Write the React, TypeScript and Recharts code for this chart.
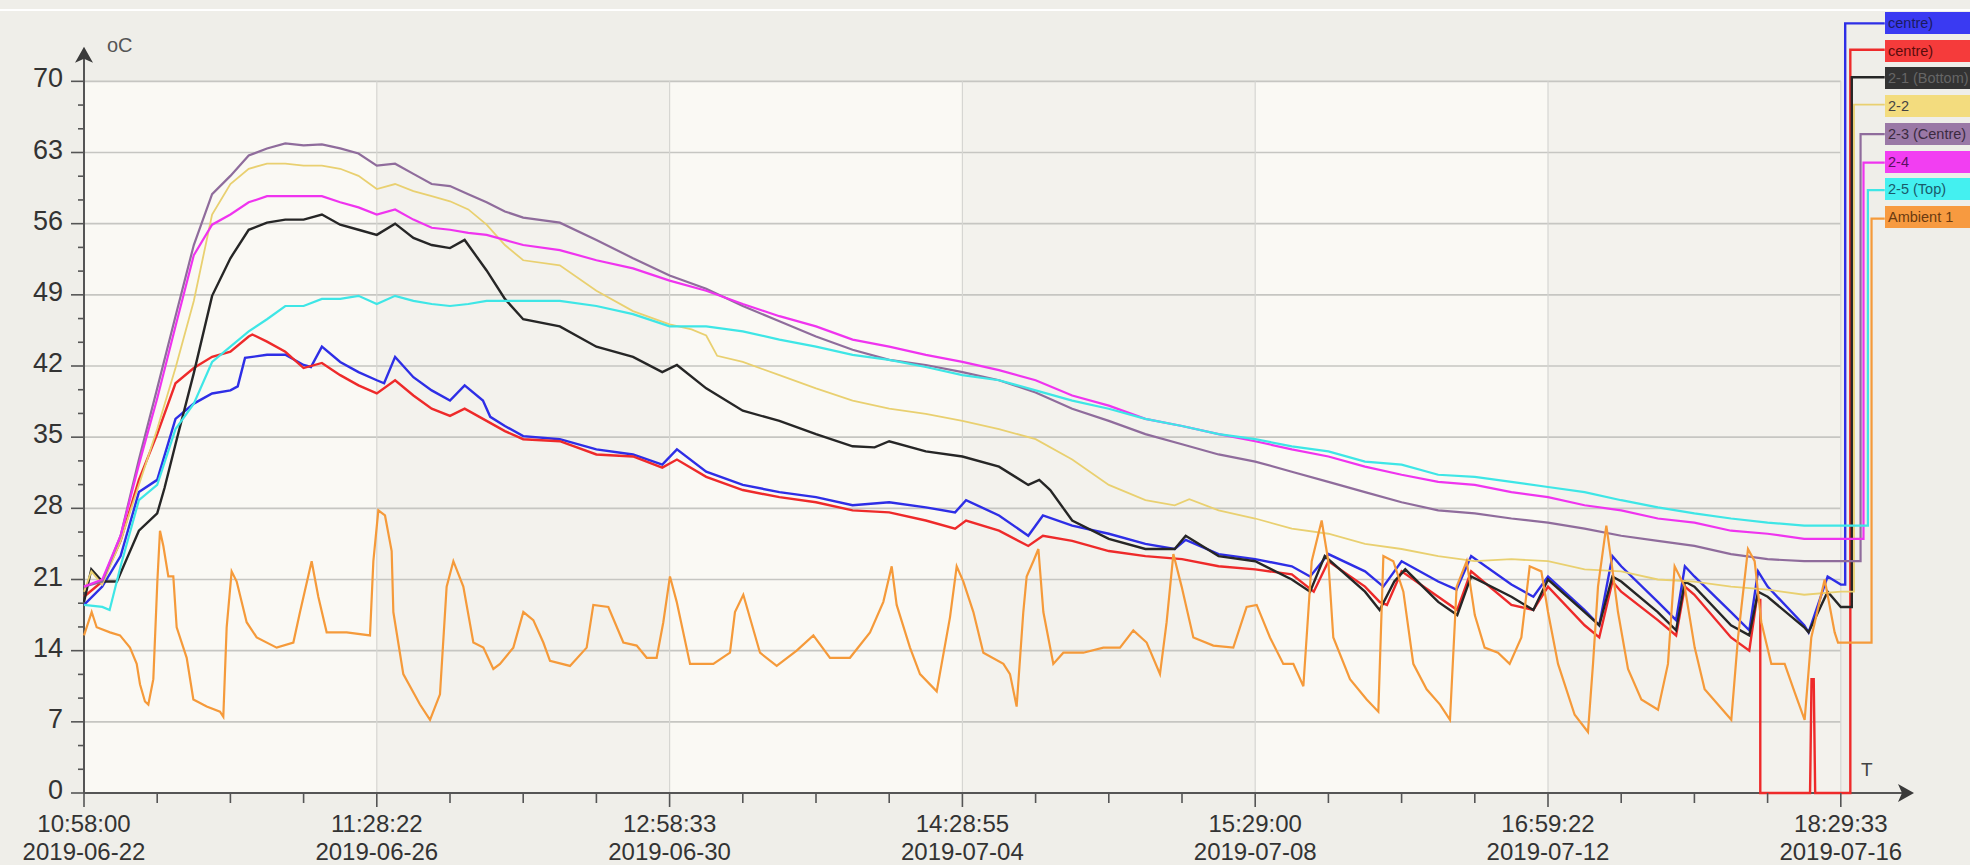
import React from 'react';
import {
  LineChart, Line, XAxis, YAxis, ReferenceLine, ReferenceArea, ReferenceDot,
} from 'recharts';

type Pt = [number, number];

// x in days since 10:58:00 2019-06-22, y in oC
const TIME_LABELS = ['10:58:00', '11:28:22', '12:58:33', '14:28:55', '15:29:00', '16:59:22', '18:29:33'];
const DATE_LABELS = ['2019-06-22', '2019-06-26', '2019-06-30', '2019-07-04', '2019-07-08', '2019-07-12', '2019-07-16'];
const X_MAJOR = [0, 4, 8, 12, 16, 20, 24];
const X_TICKS = Array.from({ length: 25 }, (_, i) => i);
const Y_MAJOR = [0, 7, 14, 21, 28, 35, 42, 49, 56, 63, 70];
const Y_TICKS = Array.from({ length: 31 }, (_, k) => (k * 7) / 3);
const X_MAX = 25.765;
const Y_MAX = 78;

const centreA: Pt[] = [
  [0, 18.5], [0.25, 20.3], [0.5, 23.3], [0.75, 29.6], [1.0, 30.8], [1.25, 36.8], [1.5, 38.3],
  [1.75, 39.3], [2.0, 39.6], [2.1, 40.0], [2.2, 42.8], [2.5, 43.1], [2.75, 43.1], [3.0, 42.1],
  [3.1, 41.9], [3.25, 43.9], [3.5, 42.4], [3.75, 41.4], [4.0, 40.6], [4.1, 40.3], [4.25, 42.9],
  [4.5, 40.9], [4.75, 39.6], [5.0, 38.6], [5.2, 40.1], [5.45, 38.6], [5.55, 37.0], [5.75, 36.1],
  [6.0, 35.1], [6.5, 34.8], [7.0, 33.8], [7.5, 33.3], [7.9, 32.3], [8.1, 33.8], [8.5, 31.6],
  [9.0, 30.3], [9.5, 29.6], [10.0, 29.1], [10.5, 28.3], [11.0, 28.6], [11.5, 28.1], [11.9, 27.6],
  [12.05, 28.8], [12.5, 27.3], [12.9, 25.3], [13.1, 27.3], [13.5, 26.3], [14.0, 25.5], [14.5, 24.5],
  [14.9, 24.0], [15.05, 24.9], [15.5, 23.5], [16.0, 23.0], [16.5, 22.3], [16.75, 21.3], [17.0, 23.5],
  [17.5, 21.8], [17.75, 20.3], [18.0, 22.8], [18.5, 20.8], [18.75, 20.0], [18.95, 23.3], [19.5, 20.5],
  [19.8, 19.3], [20.0, 21.3], [20.5, 18.0], [20.7, 16.5], [20.88, 23.3], [21.0, 22.3], [21.5, 18.8],
  [21.75, 17.0], [21.87, 22.3], [22.0, 21.3], [22.5, 17.8], [22.75, 16.0], [22.87, 21.8], [23.0, 20.3],
  [23.5, 16.5], [23.56, 15.8], [23.82, 21.3], [24.0, 20.5], [24.06, 20.5], [24.06, 75.7], [24.6, 75.7],
];

const centreB: Pt[] = [
  [0, 19.3], [0.25, 20.8], [0.5, 24.8], [0.75, 30.8], [1.0, 35.3], [1.25, 40.3], [1.5, 41.8],
  [1.75, 42.9], [2.0, 43.4], [2.25, 44.9], [2.3, 45.1], [2.5, 44.4], [2.75, 43.4], [3.0, 41.8],
  [3.25, 42.3], [3.5, 41.1], [3.75, 40.1], [4.0, 39.3], [4.25, 40.6], [4.5, 39.1], [4.75, 37.8],
  [5.0, 37.1], [5.2, 37.8], [5.5, 36.6], [5.75, 35.6], [6.0, 34.8], [6.5, 34.6], [7.0, 33.3],
  [7.5, 33.1], [7.9, 32.0], [8.1, 32.8], [8.5, 31.1], [9.0, 29.8], [9.5, 29.1], [10.0, 28.6],
  [10.5, 27.8], [11.0, 27.6], [11.5, 26.8], [11.9, 26.0], [12.05, 26.8], [12.5, 25.8], [12.9, 24.3],
  [13.1, 25.3], [13.5, 24.8], [14.0, 23.8], [14.5, 23.3], [15.0, 23.0], [15.5, 22.3], [16.0, 22.0],
  [16.5, 21.5], [16.8, 19.8], [17.0, 22.8], [17.5, 20.3], [17.7, 18.8], [17.8, 18.5], [18.0, 21.8],
  [18.5, 19.3], [18.76, 18.0], [18.95, 21.8], [19.5, 18.5], [19.8, 18.0], [20.0, 20.3], [20.5, 16.5],
  [20.7, 15.3], [20.88, 20.8], [21.0, 19.8], [21.5, 17.0], [21.75, 15.5], [21.87, 20.3], [22.0, 19.5],
  [22.5, 15.3], [22.75, 14.0], [22.85, 19.0], [22.9, 19.0], [22.9, 0], [23.58, 0], [23.6, 11.2],
  [23.63, 11.2], [23.65, 0], [24.13, 0], [24.13, 73.1], [24.6, 73.1],
];

const bottom21: Pt[] = [
  [0, 18.8], [0.1, 22.0], [0.25, 20.8], [0.45, 20.8], [0.6, 23.3], [0.75, 25.8], [1.0, 27.5],
  [1.1, 30.0], [1.25, 34.3], [1.5, 41.3], [1.75, 48.9], [2.0, 52.6], [2.25, 55.4], [2.5, 56.1],
  [2.75, 56.4], [3.0, 56.4], [3.25, 56.9], [3.5, 55.9], [3.75, 55.4], [4.0, 54.9], [4.25, 56.0],
  [4.5, 54.6], [4.75, 53.9], [5.0, 53.6], [5.2, 54.4], [5.5, 51.4], [5.75, 48.6], [6.0, 46.6],
  [6.5, 45.9], [7.0, 43.9], [7.5, 42.9], [7.9, 41.4], [8.1, 42.1], [8.5, 39.8], [9.0, 37.6],
  [9.5, 36.6], [10.0, 35.3], [10.5, 34.1], [10.8, 34.0], [11.0, 34.6], [11.5, 33.6], [12.0, 33.1],
  [12.5, 32.1], [12.9, 30.3], [13.05, 30.8], [13.2, 29.8], [13.5, 26.8], [14.0, 25.0], [14.5, 24.0],
  [14.9, 24.0], [15.05, 25.3], [15.5, 23.3], [16.0, 22.8], [16.5, 21.0], [16.75, 19.8], [16.95, 23.3],
  [17.5, 19.8], [17.7, 18.0], [17.9, 20.8], [18.05, 22.0], [18.5, 18.8], [18.76, 17.5], [18.95, 21.3],
  [19.5, 19.3], [19.8, 18.0], [20.0, 21.0], [20.5, 17.8], [20.7, 16.5], [20.88, 21.3], [21.0, 20.8],
  [21.5, 17.8], [21.75, 16.0], [21.87, 20.8], [22.0, 20.3], [22.5, 16.5], [22.75, 15.5], [22.87, 19.8],
  [23.0, 19.3], [23.5, 16.3], [23.56, 15.8], [23.82, 19.8], [24.0, 18.3], [24.15, 18.3], [24.15, 70.4],
  [24.6, 70.4],
];

const probe22: Pt[] = [
  [0, 19.8], [0.1, 21.8], [0.25, 20.5], [0.5, 24.8], [0.75, 30.3], [1.0, 35.8], [1.25, 41.8],
  [1.5, 48.4], [1.75, 56.9], [2.0, 59.9], [2.25, 61.4], [2.5, 61.9], [2.75, 61.9], [3.0, 61.7],
  [3.25, 61.7], [3.5, 61.4], [3.75, 60.7], [4.0, 59.4], [4.25, 59.9], [4.5, 59.2], [4.75, 58.7],
  [5.0, 58.2], [5.25, 57.4], [5.5, 55.9], [5.75, 53.9], [6.0, 52.4], [6.5, 51.9], [7.0, 49.4],
  [7.5, 47.4], [8.0, 46.1], [8.3, 45.6], [8.5, 45.0], [8.65, 43.0], [9.0, 42.4], [9.5, 41.1],
  [10.0, 39.8], [10.5, 38.6], [11.0, 37.8], [11.5, 37.3], [12.0, 36.6], [12.5, 35.8], [13.0, 34.8],
  [13.5, 32.8], [14.0, 30.3], [14.5, 28.8], [14.9, 28.3], [15.1, 28.9], [15.5, 27.8], [16.0, 27.0],
  [16.5, 26.0], [17.0, 25.5], [17.5, 24.5], [18.0, 24.0], [18.5, 23.3], [19.0, 22.8], [19.5, 23.0],
  [20.0, 22.8], [20.5, 22.0], [21.0, 21.8], [21.5, 21.0], [22.0, 20.8], [22.5, 20.3], [23.0, 20.0],
  [23.5, 19.5], [24.0, 19.8], [24.18, 19.8], [24.18, 67.7], [24.6, 67.7],
];

const centre23: Pt[] = [
  [0, 20.3], [0.25, 20.8], [0.5, 25.3], [0.75, 32.8], [1.0, 39.8], [1.25, 46.9], [1.5, 53.9],
  [1.75, 58.9], [2.0, 60.7], [2.25, 62.7], [2.5, 63.4], [2.75, 63.9], [3.0, 63.7], [3.25, 63.8],
  [3.5, 63.4], [3.75, 62.9], [4.0, 61.7], [4.25, 61.9], [4.5, 60.9], [4.75, 59.9], [5.0, 59.7],
  [5.25, 58.9], [5.5, 58.1], [5.75, 57.2], [6.0, 56.6], [6.5, 56.1], [7.0, 54.4], [7.5, 52.6],
  [8.0, 50.9], [8.5, 49.6], [9.0, 47.9], [9.5, 46.4], [10.0, 44.9], [10.5, 43.6], [11.0, 42.6],
  [11.5, 42.1], [12.0, 41.4], [12.5, 40.6], [13.0, 39.4], [13.5, 37.8], [14.0, 36.6], [14.5, 35.3],
  [15.0, 34.3], [15.5, 33.3], [16.0, 32.6], [16.5, 31.6], [17.0, 30.6], [17.5, 29.6], [18.0, 28.6],
  [18.5, 27.8], [19.0, 27.5], [19.5, 27.0], [20.0, 26.6], [20.5, 26.0], [21.0, 25.3], [21.5, 24.8],
  [22.0, 24.3], [22.5, 23.5], [23.0, 23.0], [23.5, 22.8], [24.0, 22.8], [24.27, 22.8], [24.27, 64.8],
  [24.6, 64.8],
];

const probe24: Pt[] = [
  [0, 20.3], [0.25, 21.0], [0.5, 25.3], [0.75, 32.3], [1.0, 38.8], [1.25, 45.9], [1.5, 52.9],
  [1.75, 55.9], [2.0, 56.9], [2.25, 58.1], [2.5, 58.7], [2.75, 58.7], [3.0, 58.7], [3.25, 58.7],
  [3.5, 58.1], [3.75, 57.6], [4.0, 56.9], [4.25, 57.4], [4.5, 56.4], [4.75, 55.6], [5.0, 55.4],
  [5.25, 55.1], [5.5, 54.9], [5.75, 54.4], [6.0, 53.9], [6.5, 53.4], [7.0, 52.4], [7.5, 51.6],
  [8.0, 50.4], [8.5, 49.4], [9.0, 48.1], [9.5, 46.9], [10.0, 45.9], [10.5, 44.6], [11.0, 43.9],
  [11.5, 43.1], [12.0, 42.4], [12.5, 41.6], [13.0, 40.6], [13.5, 39.1], [14.0, 38.1], [14.5, 36.8],
  [15.0, 36.1], [15.5, 35.3], [16.0, 34.6], [16.5, 33.8], [17.0, 33.1], [17.5, 32.1], [18.0, 31.3],
  [18.5, 30.6], [19.0, 30.3], [19.5, 29.6], [20.0, 29.1], [20.5, 28.3], [21.0, 27.8], [21.5, 27.0],
  [22.0, 26.6], [22.5, 25.8], [23.0, 25.5], [23.5, 25.0], [24.0, 25.0], [24.31, 25.0], [24.31, 62.0],
  [24.6, 62.0],
];

const top25: Pt[] = [
  [0, 18.5], [0.25, 18.3], [0.35, 18.0], [0.5, 22.3], [0.75, 28.8], [1.0, 30.3], [1.25, 35.8],
  [1.5, 38.3], [1.75, 42.4], [2.0, 43.9], [2.25, 45.4], [2.5, 46.6], [2.75, 47.9], [3.0, 47.9],
  [3.25, 48.6], [3.5, 48.6], [3.75, 48.9], [4.0, 48.1], [4.25, 48.9], [4.5, 48.4], [4.75, 48.1],
  [5.0, 47.9], [5.25, 48.1], [5.5, 48.4], [5.75, 48.4], [6.0, 48.4], [6.5, 48.4], [7.0, 47.9],
  [7.5, 47.1], [8.0, 45.9], [8.5, 45.9], [9.0, 45.4], [9.5, 44.6], [10.0, 43.9], [10.5, 43.1],
  [11.0, 42.6], [11.5, 41.9], [12.0, 41.1], [12.5, 40.6], [13.0, 39.6], [13.5, 38.6], [14.0, 37.8],
  [14.5, 36.8], [15.0, 36.1], [15.5, 35.3], [16.0, 34.8], [16.5, 34.1], [17.0, 33.6], [17.5, 32.6],
  [18.0, 32.3], [18.5, 31.3], [19.0, 31.1], [19.5, 30.6], [20.0, 30.1], [20.5, 29.6], [21.0, 28.8],
  [21.5, 28.1], [22.0, 27.5], [22.5, 27.0], [23.0, 26.6], [23.5, 26.3], [24.0, 26.3], [24.37, 26.3],
  [24.37, 59.3], [24.6, 59.3],
];

const ambient1: Pt[] = [
  [0, 15.5], [0.105, 17.8], [0.173, 16.3], [0.355, 15.8], [0.492, 15.5], [0.628, 14.3], [0.72, 12.7],
  [0.765, 10.7], [0.833, 9.0], [0.879, 8.7], [0.947, 11.2], [1.002, 20.8], [1.038, 25.8], [1.084, 24.3],
  [1.152, 21.3], [1.22, 21.3], [1.266, 16.3], [1.403, 13.3], [1.494, 9.2], [1.676, 8.5], [1.858, 8.0],
  [1.903, 7.5], [1.949, 16.3], [2.017, 21.8], [2.086, 20.8], [2.222, 16.8], [2.359, 15.3], [2.632, 14.3],
  [2.86, 14.8], [2.951, 17.8], [3.11, 22.8], [3.201, 19.3], [3.315, 15.8], [3.588, 15.8], [3.907, 15.5],
  [3.953, 22.8], [4.021, 27.8], [4.112, 27.3], [4.203, 23.8], [4.226, 17.8], [4.362, 11.7], [4.59, 8.7],
  [4.727, 7.2], [4.863, 9.7], [4.954, 20.3], [5.046, 22.8], [5.182, 20.3], [5.319, 14.8], [5.455, 14.3],
  [5.592, 12.2], [5.683, 12.7], [5.865, 14.3], [6.002, 17.8], [6.138, 17.0], [6.275, 14.8], [6.366, 13.0],
  [6.639, 12.5], [6.867, 14.3], [6.958, 18.5], [7.163, 18.3], [7.368, 14.8], [7.55, 14.5], [7.687, 13.3],
  [7.823, 13.3], [7.914, 16.8], [8.005, 21.3], [8.097, 18.8], [8.279, 12.7], [8.597, 12.7], [8.825, 13.8],
  [8.893, 17.8], [9.007, 19.5], [9.235, 13.8], [9.463, 12.5], [9.736, 14.0], [9.964, 15.5], [10.191, 13.3],
  [10.464, 13.3], [10.738, 15.8], [10.92, 18.8], [11.034, 22.3], [11.102, 18.5], [11.284, 14.3],
  [11.421, 11.7], [11.649, 10.0], [11.831, 17.3], [11.922, 22.3], [12.013, 20.8], [12.15, 17.8],
  [12.286, 13.8], [12.56, 12.7], [12.65, 11.7], [12.741, 8.5], [12.832, 17.8], [12.878, 21.3],
  [12.969, 22.8], [13.038, 24.0], [13.106, 17.8], [13.242, 12.7], [13.379, 13.8], [13.652, 13.8],
  [13.925, 14.3], [14.153, 14.3], [14.335, 16.0], [14.517, 14.8], [14.699, 11.7], [14.79, 16.8],
  [14.882, 23.5], [14.995, 20.3], [15.155, 15.3], [15.428, 14.5], [15.701, 14.3], [15.883, 18.3],
  [16.02, 18.5], [16.202, 15.3], [16.384, 12.7], [16.521, 12.7], [16.658, 10.5], [16.772, 22.8],
  [16.908, 26.8], [16.999, 22.8], [17.067, 15.3], [17.295, 11.2], [17.523, 9.2], [17.682, 8.0],
  [17.751, 23.3], [17.887, 22.8], [18.024, 19.8], [18.16, 12.7], [18.342, 10.2], [18.525, 8.7],
  [18.661, 7.2], [18.752, 20.3], [18.889, 22.8], [19.0, 17.5], [19.134, 14.3], [19.317, 13.8],
  [19.476, 12.7], [19.636, 15.3], [19.75, 22.3], [19.909, 21.8], [20.0, 17.8], [20.137, 12.7],
  [20.364, 7.7], [20.546, 6.0], [20.615, 12.7], [20.683, 20.3], [20.797, 26.3], [20.865, 22.8],
  [20.956, 17.8], [21.093, 12.2], [21.275, 9.2], [21.503, 8.2], [21.639, 12.7], [21.73, 22.3],
  [21.867, 20.3], [22.004, 14.3], [22.14, 10.2], [22.322, 8.7], [22.504, 7.2], [22.596, 15.3],
  [22.732, 24.0], [22.823, 22.8], [22.914, 16.8], [23.051, 12.7], [23.233, 12.7], [23.37, 9.9],
  [23.506, 7.2], [23.597, 15.3], [23.78, 21.0], [23.916, 15.8], [23.962, 14.8], [24.42, 14.8],
  [24.42, 56.5], [24.6, 56.5],
];

const SERIES = [
  { name: 'centre)', data: centreA, color: '#2e2ee6', box: '#3a3af2', text: '#1a1a60', width: 2.4 },
  { name: 'centre)', data: centreB, color: '#ee2a2a', box: '#f53b3b', text: '#5a0c0c', width: 2.4 },
  { name: '2-1 (Bottom)', data: bottom21, color: '#262626', box: '#333333', text: '#666666', width: 2.4 },
  { name: '2-2', data: probe22, color: '#e9d070', box: '#f3dc7e', text: '#444', width: 1.8 },
  { name: '2-3 (Centre)', data: centre23, color: '#8f6c9c', box: '#9a78a6', text: '#3a2a40', width: 2.2 },
  { name: '2-4', data: probe24, color: '#ef34ef', box: '#f23ef2', text: '#5a1060', width: 2.2 },
  { name: '2-5 (Top)', data: top25, color: '#3ee6e6', box: '#44f0f0', text: '#1a5a6a', width: 2.2 },
  { name: 'Ambient 1', data: ambient1, color: '#f59a3a', box: '#f79a40', text: '#6a3a10', width: 2.2 },
];

const AXIS = '#555555';
const LABEL = '#333333';

function XTick({ x, y, payload }: any) {
  const v = payload.value as number;
  const i = X_MAJOR.indexOf(v);
  const major = i >= 0;
  return (
    <g>
      <line x1={x} x2={x} y1={y} y2={y + (major ? 14 : 10)} stroke={AXIS} strokeWidth={1.6} />
      {major && (
        <text x={x} y={y + 39} textAnchor="middle" fontSize={24} fill={LABEL}>{TIME_LABELS[i]}</text>
      )}
      {major && (
        <text x={x} y={y + 67} textAnchor="middle" fontSize={24} fill={LABEL}>{DATE_LABELS[i]}</text>
      )}
    </g>
  );
}

function YTick({ x, y, payload }: any) {
  const v = payload.value as number;
  const major = Math.abs(v / 7 - Math.round(v / 7)) < 1e-6;
  return (
    <g>
      <line x1={x - (major ? 13 : 6)} x2={x} y1={y} y2={y} stroke={AXIS} strokeWidth={1.6} />
      {major && (
        <text x={x - 21} y={y + 6} textAnchor="end" fontSize={27} fill={LABEL}>{Math.round(v)}</text>
      )}
    </g>
  );
}

const upArrow = (p: any) => (
  <path d={`M${p.cx},${p.cy} L${p.cx - 9},${p.cy + 16} L${p.cx},${p.cy + 12} L${p.cx + 9},${p.cy + 16} Z`} fill="#3a3a3a" />
);
const rightArrow = (p: any) => (
  <path d={`M${p.cx},${p.cy} L${p.cx - 16},${p.cy - 9} L${p.cx - 12},${p.cy} L${p.cx - 16},${p.cy + 9} Z`} fill="#3a3a3a" />
);

export default function App() {
  return (
    <div
      style={{
        position: 'absolute', left: 0, top: 0, width: 1970, height: 865,
        background: '#efeee9', fontFamily: '"Liberation Sans", Arial, sans-serif', overflow: 'hidden',
      }}
    >
      <div style={{ position: 'absolute', left: 0, top: 9, width: 1970, height: 2, background: '#ffffff' }} />
      <LineChart width={1970} height={865} margin={{ top: 0, right: 0, bottom: 0, left: 0 }}>
        <XAxis
          type="number" dataKey="d" domain={[0, X_MAX]} ticks={X_TICKS} interval={0}
          height={72} axisLine={false} tickLine={false} tickSize={0} tickMargin={0} tick={<XTick />}
        />
        <YAxis
          type="number" dataKey="v" domain={[0, Y_MAX]} ticks={Y_TICKS} interval={0}
          width={84} axisLine={false} tickLine={false} tickSize={0} tickMargin={0} tick={<YTick />}
        />
        {X_MAJOR.slice(0, -1).map((d, i) => (
          <ReferenceArea
            key={'band' + d} x1={d} x2={X_MAJOR[i + 1]} y1={0} y2={70}
            fill={i % 2 === 0 ? '#faf9f4' : '#f3f2ed'} fillOpacity={1} stroke="none"
          />
        ))}
        {Y_MAJOR.slice(1).map(v => (
          <ReferenceLine key={'h' + v} segment={[{ x: 0, y: v }, { x: 24, y: v }]} stroke="#c6c6c2" strokeWidth={1.6} />
        ))}
        {X_MAJOR.slice(1).map(d => (
          <ReferenceLine key={'v' + d} segment={[{ x: d, y: 0 }, { x: d, y: 70 }]} stroke="#d6d6d2" strokeWidth={1.2} />
        ))}
        <ReferenceLine segment={[{ x: 0, y: 0 }, { x: 24.95, y: 0 }]} stroke={AXIS} strokeWidth={2} />
        <ReferenceLine segment={[{ x: 0, y: 0 }, { x: 0, y: 73.0 }]} stroke={AXIS} strokeWidth={2} />
        <ReferenceDot x={25.0} y={0} r={1} shape={rightArrow} />
        <ReferenceDot x={0} y={73.4} r={1} shape={upArrow} />
        {SERIES.map((s, i) => (
          <Line
            key={i}
            data={s.data.map(([d, v]) => ({ d, v }))}
            dataKey="v" type="linear" stroke={s.color} strokeWidth={s.width}
            dot={false} activeDot={false} isAnimationActive={false} name={s.name}
          />
        ))}
      </LineChart>
      <div style={{ position: 'absolute', left: 107, top: 34, fontSize: 20, color: '#555' }}>oC</div>
      <div style={{ position: 'absolute', left: 1861, top: 759, fontSize: 19, color: '#444' }}>T</div>
      {SERIES.map((s, i) => (
        <div
          key={i}
          style={{
            position: 'absolute', left: 1885, top: 12 + i * 27.7, width: 85, height: 22,
            background: s.box, color: s.text, fontSize: 14.5, lineHeight: '22px',
            paddingLeft: 3, whiteSpace: 'nowrap', overflow: 'hidden', boxSizing: 'border-box',
          }}
        >
          {s.name}
        </div>
      ))}
    </div>
  );
}
